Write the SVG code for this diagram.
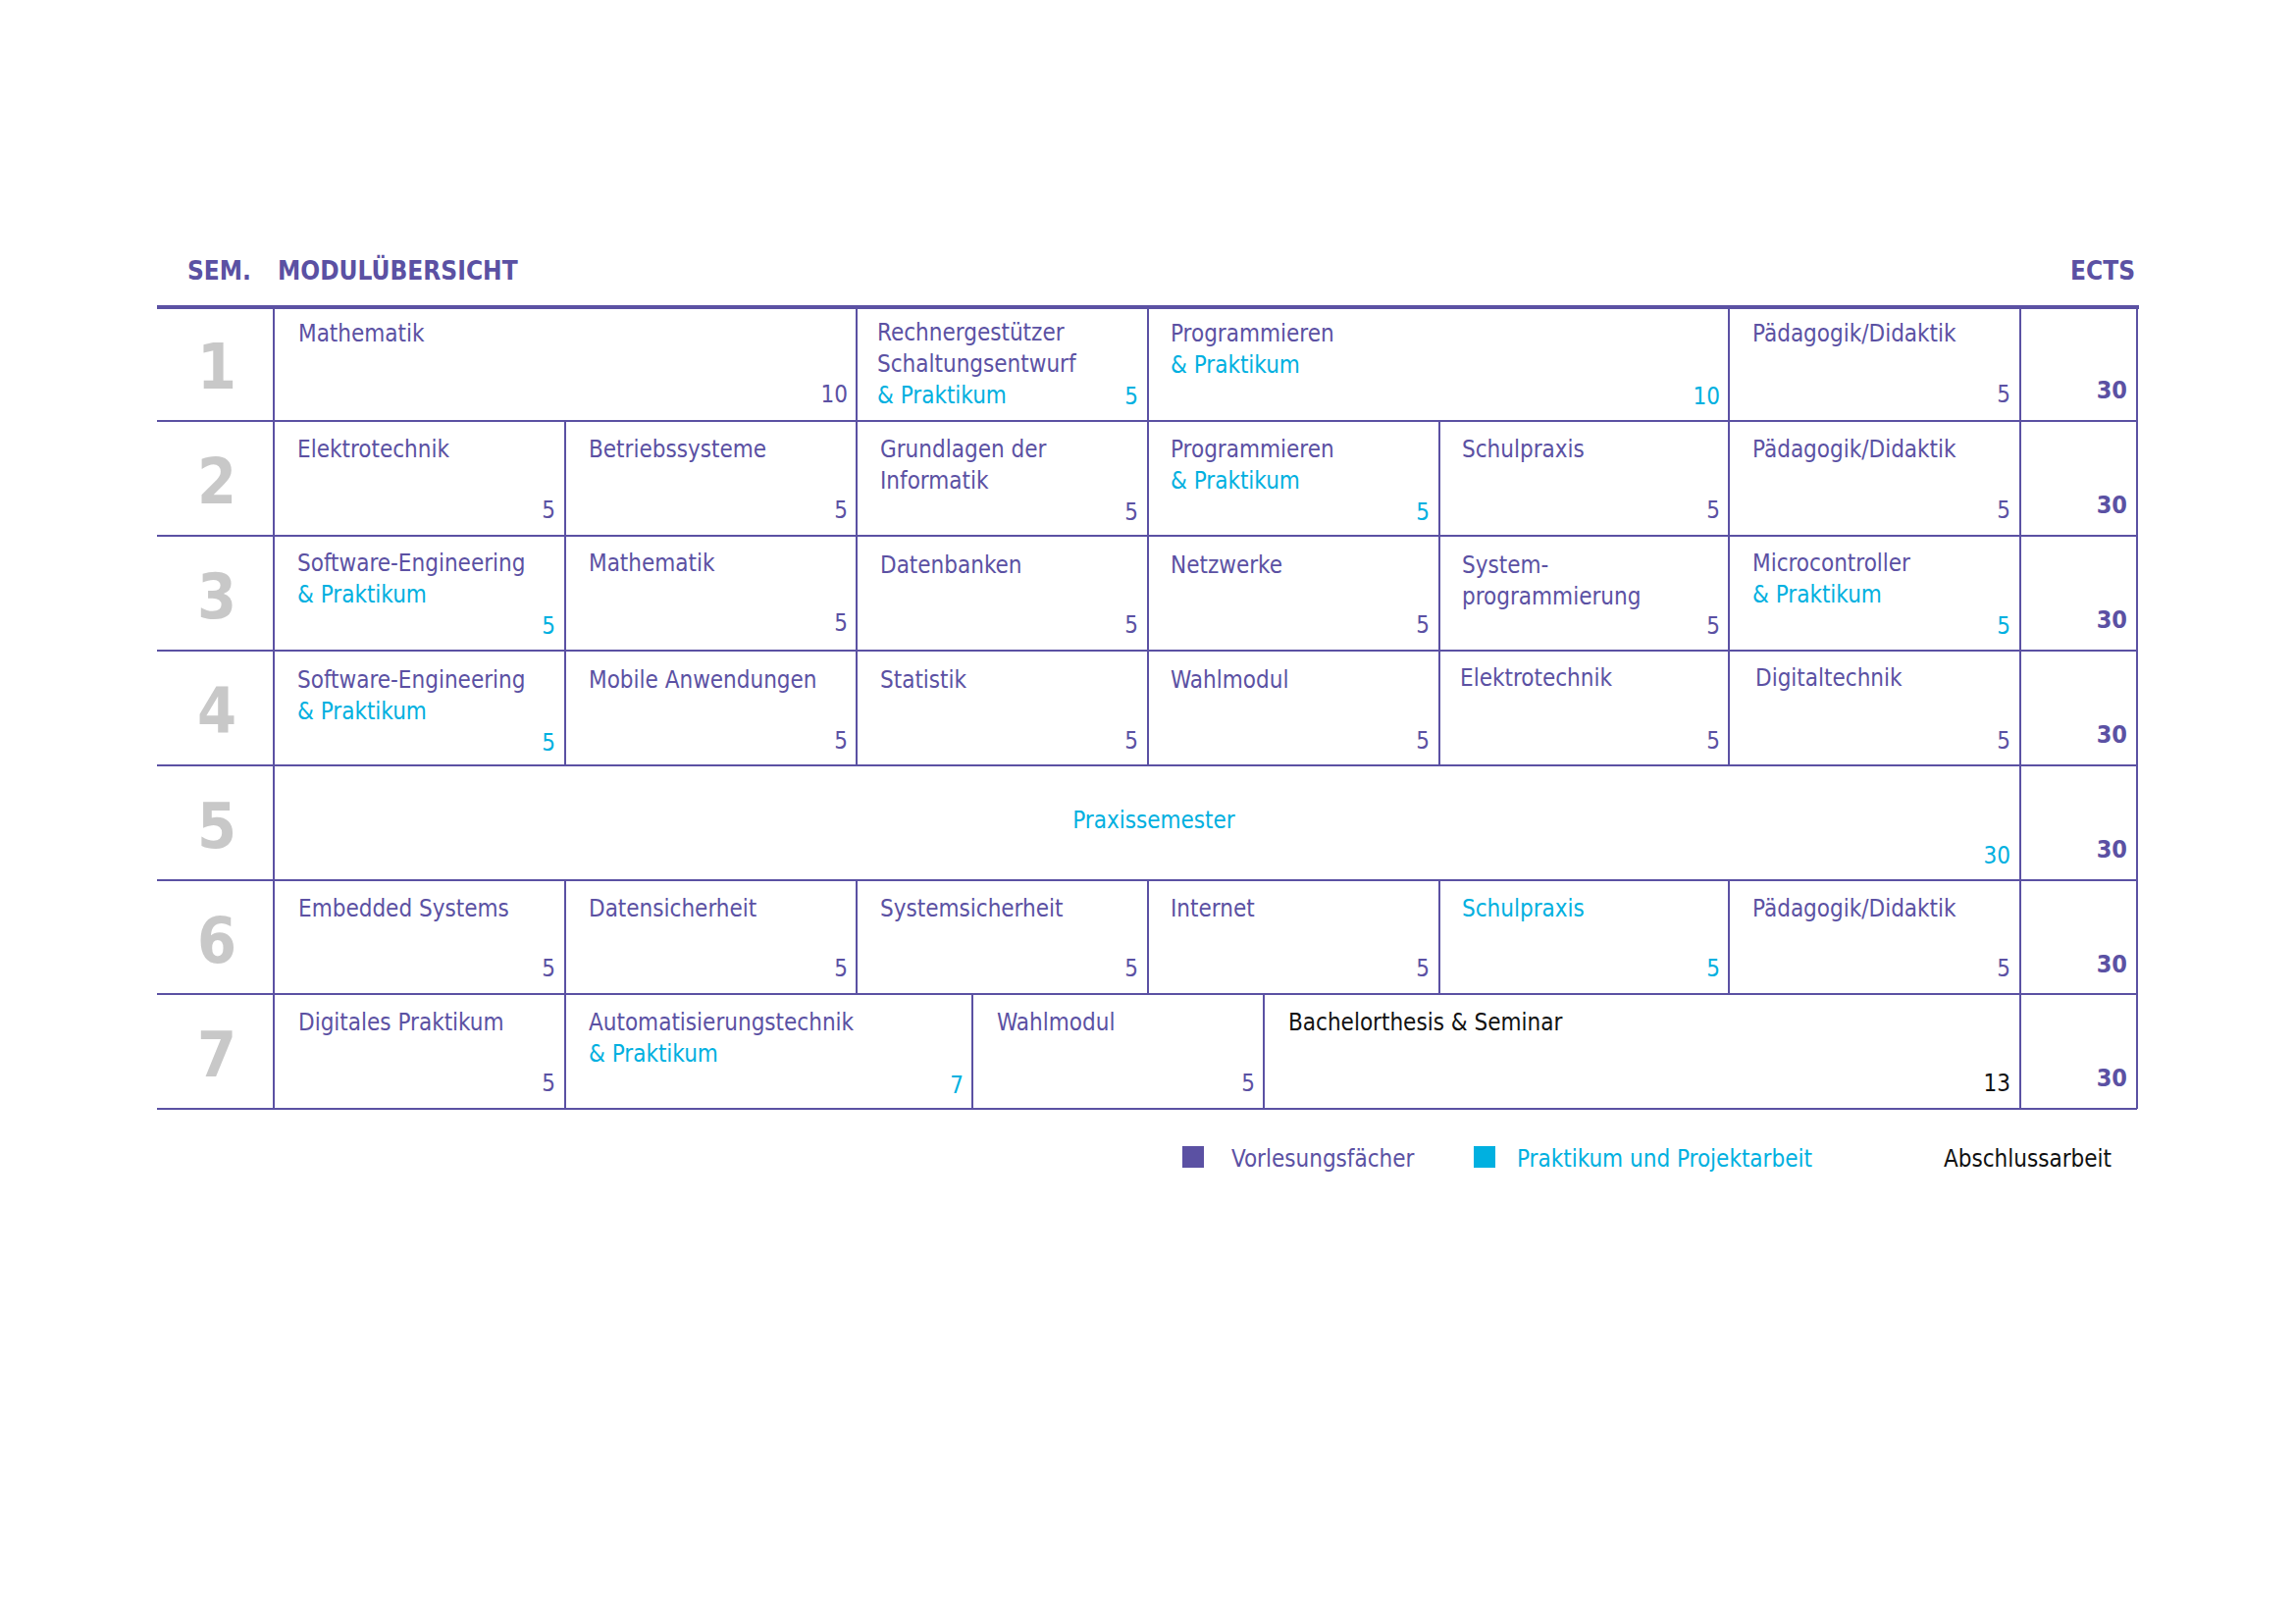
<svg xmlns="http://www.w3.org/2000/svg" width="2339" height="1655" viewBox="0 0 2339 1655">
<style>
text{font-family:"Liberation Sans Narrow","DejaVu Sans Condensed","Liberation Sans",sans-serif;font-size:24px}
.p{fill:#5b51a3}.c{fill:#00b0e0}.k{fill:#111}
.n{text-anchor:end}
.s{font-size:64px;font-weight:bold;fill:#c8c8c8;text-anchor:middle}
.e{font-weight:bold;fill:#5b51a3;text-anchor:end;font-size:25px}
.h{font-weight:bold;fill:#5b51a3;font-size:26px}
line{stroke:#5b51a3;stroke-width:2}
.t{stroke-width:4}
</style>
<rect width="2339" height="1655" fill="#fff"/>
<g id="header">
<text class="h" x="191" y="285">SEM.</text>
<text class="h" x="283" y="285">MODULÜBERSICHT</text>
<text class="h" x="2176" y="285" text-anchor="end">ECTS</text>
</g>
<g id="grid">
<line class="t" x1="160" y1="313" x2="2180" y2="313"/>
<line x1="160" y1="429" x2="2178" y2="429"/>
<line x1="160" y1="546" x2="2178" y2="546"/>
<line x1="160" y1="663" x2="2178" y2="663"/>
<line x1="160" y1="780" x2="2178" y2="780"/>
<line x1="160" y1="897" x2="2178" y2="897"/>
<line x1="160" y1="1013" x2="2178" y2="1013"/>
<line x1="160" y1="1130" x2="2178" y2="1130"/>
<line x1="279" y1="313" x2="279" y2="1130"/>
<line x1="2059" y1="313" x2="2059" y2="1130"/>
<line x1="2178" y1="313" x2="2178" y2="1130"/>
<line x1="873" y1="313" x2="873" y2="780"/>
<line x1="1170" y1="313" x2="1170" y2="780"/>
<line x1="1762" y1="313" x2="1762" y2="780"/>
<line x1="576" y1="429" x2="576" y2="780"/>
<line x1="1467" y1="429" x2="1467" y2="780"/>
<line x1="576" y1="897" x2="576" y2="1130"/>
<line x1="873" y1="897" x2="873" y2="1013"/>
<line x1="1170" y1="897" x2="1170" y2="1013"/>
<line x1="1467" y1="897" x2="1467" y2="1013"/>
<line x1="1762" y1="897" x2="1762" y2="1013"/>
<line x1="991" y1="1013" x2="991" y2="1130"/>
<line x1="1288" y1="1013" x2="1288" y2="1130"/>
</g>
<g id="semesters">
<text class="s" x="221" y="396">1</text>
<text class="s" x="221" y="513">2</text>
<text class="s" x="221" y="630">3</text>
<text class="s" x="221" y="747">4</text>
<text class="s" x="221" y="864">5</text>
<text class="s" x="221" y="981">6</text>
<text class="s" x="221" y="1097">7</text>
</g>
<g id="ects">
<text class="e" x="2168" y="406">30</text>
<text class="e" x="2168" y="523">30</text>
<text class="e" x="2168" y="640">30</text>
<text class="e" x="2168" y="757">30</text>
<text class="e" x="2168" y="874">30</text>
<text class="e" x="2168" y="991">30</text>
<text class="e" x="2168" y="1107">30</text>
</g>
<g id="row1">
<text class="p" x="304" y="348">Mathematik</text><text class="p n" x="864" y="410">10</text>
<text class="p" x="894" y="347">Rechnergestützer</text><text class="p" x="894" y="379">Schaltungsentwurf</text><text class="c" x="894" y="411">&amp; Praktikum</text><text class="c n" x="1160" y="412">5</text>
<text class="p" x="1193" y="348">Programmieren</text><text class="c" x="1193" y="380">&amp; Praktikum</text><text class="c n" x="1753" y="412">10</text>
<text class="p" x="1786" y="348">Pädagogik/Didaktik</text><text class="p n" x="2049" y="410">5</text>
</g>
<g id="row2">
<text class="p" x="303" y="466">Elektrotechnik</text><text class="p n" x="566" y="528">5</text>
<text class="p" x="600" y="466">Betriebssysteme</text><text class="p n" x="864" y="528">5</text>
<text class="p" x="897" y="466">Grundlagen der</text><text class="p" x="897" y="498">Informatik</text><text class="p n" x="1160" y="530">5</text>
<text class="p" x="1193" y="466">Programmieren</text><text class="c" x="1193" y="498">&amp; Praktikum</text><text class="c n" x="1457" y="530">5</text>
<text class="p" x="1490" y="466">Schulpraxis</text><text class="p n" x="1753" y="528">5</text>
<text class="p" x="1786" y="466">Pädagogik/Didaktik</text><text class="p n" x="2049" y="528">5</text>
</g>
<g id="row3">
<text class="p" x="303" y="582">Software-Engineering</text><text class="c" x="303" y="614">&amp; Praktikum</text><text class="c n" x="566" y="646">5</text>
<text class="p" x="600" y="582">Mathematik</text><text class="p n" x="864" y="643">5</text>
<text class="p" x="897" y="584">Datenbanken</text><text class="p n" x="1160" y="645">5</text>
<text class="p" x="1193" y="584">Netzwerke</text><text class="p n" x="1457" y="645">5</text>
<text class="p" x="1490" y="584">System-</text><text class="p" x="1490" y="616">programmierung</text><text class="p n" x="1753" y="646">5</text>
<text class="p" x="1786" y="582">Microcontroller</text><text class="c" x="1786" y="614">&amp; Praktikum</text><text class="c n" x="2049" y="646">5</text>
</g>
<g id="row4">
<text class="p" x="303" y="701">Software-Engineering</text><text class="c" x="303" y="733">&amp; Praktikum</text><text class="c n" x="566" y="765">5</text>
<text class="p" x="600" y="701">Mobile Anwendungen</text><text class="p n" x="864" y="763">5</text>
<text class="p" x="897" y="701">Statistik</text><text class="p n" x="1160" y="763">5</text>
<text class="p" x="1193" y="701">Wahlmodul</text><text class="p n" x="1457" y="763">5</text>
<text class="p" x="1488" y="699">Elektrotechnik</text><text class="p n" x="1753" y="763">5</text>
<text class="p" x="1789" y="699">Digitaltechnik</text><text class="p n" x="2049" y="763">5</text>
</g>
<g id="row5">
<text class="c" x="1176" y="844" text-anchor="middle">Praxissemester</text><text class="c n" x="2049" y="880">30</text>
</g>
<g id="row6">
<text class="p" x="304" y="934">Embedded Systems</text><text class="p n" x="566" y="995">5</text>
<text class="p" x="600" y="934">Datensicherheit</text><text class="p n" x="864" y="995">5</text>
<text class="p" x="897" y="934">Systemsicherheit</text><text class="p n" x="1160" y="995">5</text>
<text class="p" x="1193" y="934">Internet</text><text class="p n" x="1457" y="995">5</text>
<text class="c" x="1490" y="934">Schulpraxis</text><text class="c n" x="1753" y="995">5</text>
<text class="p" x="1786" y="934">Pädagogik/Didaktik</text><text class="p n" x="2049" y="995">5</text>
</g>
<g id="row7">
<text class="p" x="304" y="1050">Digitales Praktikum</text><text class="p n" x="566" y="1112">5</text>
<text class="p" x="600" y="1050">Automatisierungstechnik</text><text class="c" x="600" y="1082">&amp; Praktikum</text><text class="c n" x="982" y="1114">7</text>
<text class="p" x="1016" y="1050">Wahlmodul</text><text class="p n" x="1279" y="1112">5</text>
<text class="k" x="1313" y="1050">Bachelorthesis &amp; Seminar</text><text class="k n" x="2049" y="1112">13</text>
</g>
<g id="legend">
<rect x="1205" y="1168" width="22" height="22" fill="#5b51a3"/>
<text class="p" x="1255" y="1189">Vorlesungsfächer</text>
<rect x="1502" y="1168" width="22" height="22" fill="#00b0e0"/>
<text class="c" x="1546" y="1189">Praktikum und Projektarbeit</text>
<text class="k" x="1981" y="1189">Abschlussarbeit</text>
</g>
</svg>
